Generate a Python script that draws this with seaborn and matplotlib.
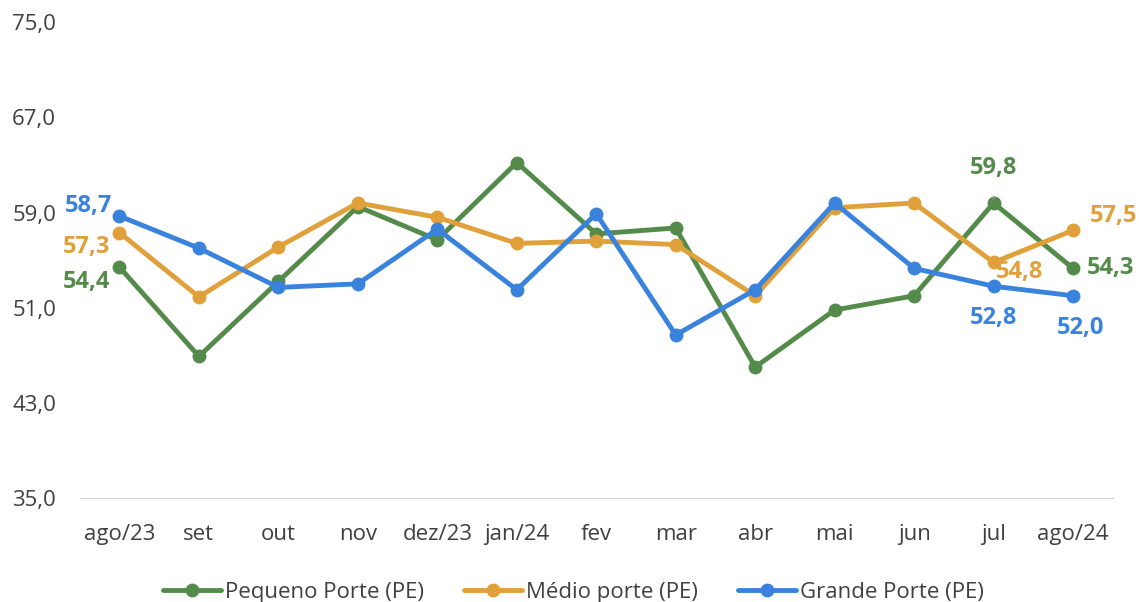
import numpy as np
import pandas as pd
import matplotlib
matplotlib.use("Agg")
import matplotlib.pyplot as plt
import seaborn as sns

meses = ["ago/23", "set", "out", "nov", "dez/23", "jan/24", "fev", "mar",
         "abr", "mai", "jun", "jul", "ago/24"]
pequeno = [54.4, 46.9, 53.2, 59.5, 56.7, 63.2, 57.2, 57.7, 46.0, 50.8, 52.0, 59.8, 54.3]
medio = [57.3, 51.9, 56.1, 59.8, 58.6, 56.4, 56.6, 56.3, 52.0, 59.4, 59.8, 54.8, 57.5]
grande = [58.7, 56.0, 52.7, 53.0, 57.6, 52.5, 58.9, 48.7, 52.5, 59.8, 54.3, 52.8, 52.0]
series = ["Pequeno Porte (PE)", "Médio porte (PE)", "Grande Porte (PE)"]
cores = ["#548B4B", "#E0A03A", "#3A83DD"]

sns.set_style("white")
plt.rcParams["font.family"] = ["Open Sans", "DejaVu Sans"]

df = pd.DataFrame({
    "x": list(range(len(meses))) * 3,
    "valor": pequeno + medio + grande,
    "serie": [s for s in series for _ in meses],
})

fig = plt.figure(figsize=(11.39, 6.02), dpi=100)
ax = fig.add_axes([0.070, 0.173, 0.907, 0.790])
sns.lineplot(data=df, x="x", y="valor", hue="serie", palette=cores,
             marker="o", markersize=10, markeredgewidth=0, linewidth=3.5,
             ax=ax, legend=True)

ax.set_xlim(-0.5, len(meses) - 0.5)
ax.set_ylim(35, 75)
ax.set_yticks(np.arange(35, 76, 8))
ax.set_yticklabels([f"{v:.1f}".replace(".", ",") for v in np.arange(35, 76, 8)])
ax.set_xticks(range(len(meses)))
ax.set_xticklabels(meses)
ax.set_xticks(np.arange(-0.5, len(meses), 1), minor=True)
ax.tick_params(axis="x", which="major", length=0, pad=19, labelsize=16, colors="#404040")
ax.tick_params(axis="x", which="minor", length=6, color="#D0D0D0", width=1)
ax.tick_params(axis="y", length=0, pad=17, labelsize=16, colors="#404040")
ax.set_xlabel("")
ax.set_ylabel("")
for s in ["top", "right", "left"]:
    ax.spines[s].set_visible(False)
ax.spines["bottom"].set_color("#D0D0D0")
ax.grid(False)

# rótulos de dados
n = len(meses) - 1
rotulos = [
    (0, pequeno[0], cores[0], (-24, -11)),
    (0, medio[0], cores[1], (-24, -10)),
    (0, grande[0], cores[2], (-22, 7)),
    (11, medio[11], cores[1], (19, -7)),
    (11, grande[11], cores[2], (0, -23)),
    (n, pequeno[n], cores[0], (27, 0)),
    (n, medio[n], cores[1], (29, 10)),
    (n, grande[n], cores[2], (5, -23)),
]
for x, v, c, off in rotulos:
    ax.annotate(f"{v:.1f}".replace(".", ","), (x, v), xytext=off,
                textcoords="offset points", ha="center", va="center",
                color=c, fontsize=17, fontweight="bold")
ax.annotate(f"{pequeno[11]:.1f}".replace(".", ","), (11, pequeno[11]),
            xytext=(0, 25), textcoords="offset points", ha="center",
            va="center", color=cores[0], fontsize=17, fontweight="bold",
            arrowprops=dict(arrowstyle="-", color="#A0A0A0", lw=1,
                            shrinkA=9, shrinkB=3))

ax.legend(loc="upper center", bbox_to_anchor=(0.478, -0.135), ncol=3,
          frameon=False, fontsize=16, handlelength=2.6, columnspacing=1.8,
          labelcolor="#404040", handletextpad=0.2)

fig.savefig("out.png", dpi=100)
